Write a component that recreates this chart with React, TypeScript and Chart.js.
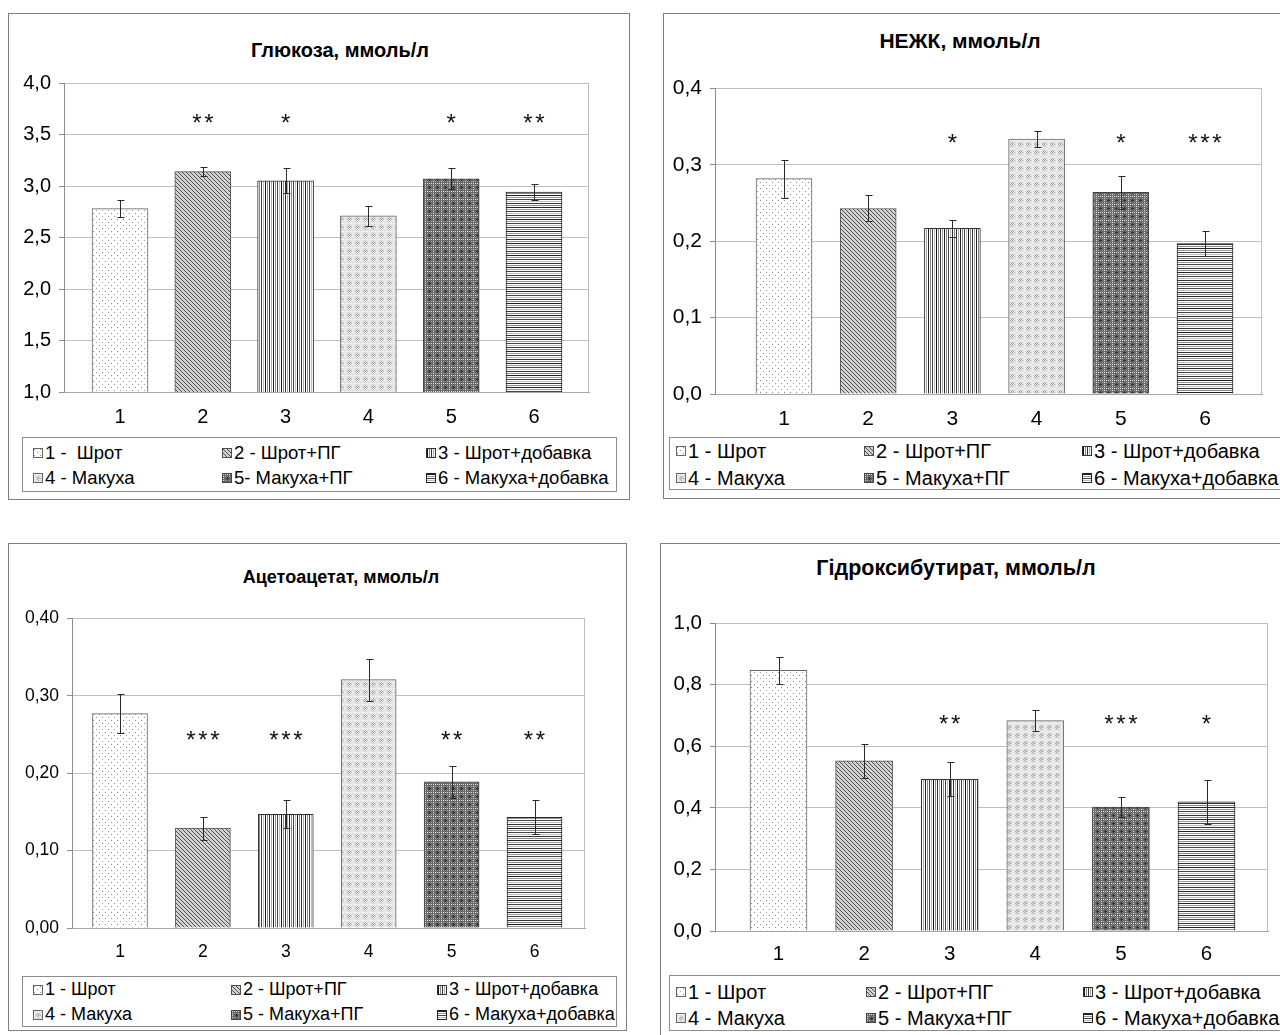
import React, { useEffect, useRef } from 'react';
import { Chart, registerables } from 'chart.js';

Chart.register(...registerables);

const FONT = "'Liberation Sans', Arial, sans-serif";

// ---- shared data ----
const groupNumbers = ['1', '2', '3', '4', '5', '6'];
const legendLabelsGlucose = ['1 -  Шрот', '2 - Шрот+ПГ', '3 - Шрот+добавка', '4 - Макуха', '5- Макуха+ПГ', '6 - Макуха+добавка'];
const legendLabels = ['1 - Шрот', '2 - Шрот+ПГ', '3 - Шрот+добавка', '4 - Макуха', '5 - Макуха+ПГ', '6 - Макуха+добавка'];

// Глюкоза
const glucoseValues = [2.78, 3.14, 3.05, 2.71, 3.07, 2.94];
const glucoseErrors = [0.08, 0.04, 0.12, 0.1, 0.1, 0.08];
const glucoseStars = ['', '**', '*', '', '*', '**'];
const glucoseTickValues = [1.0, 1.5, 2.0, 2.5, 3.0, 3.5, 4.0];
const glucoseTickLabels = ['1,0', '1,5', '2,0', '2,5', '3,0', '3,5', '4,0'];

// НЕЖК
const nefaValues = [0.282, 0.243, 0.217, 0.334, 0.264, 0.197];
const nefaErrors = [0.025, 0.017, 0.011, 0.01, 0.022, 0.016];
const nefaStars = ['', '', '*', '', '*', '***'];
const nefaTickValues = [0.0, 0.1, 0.2, 0.3, 0.4];
const nefaTickLabels = ['0,0', '0,1', '0,2', '0,3', '0,4'];

// Ацетоацетат
const acetoValues = [0.277, 0.129, 0.147, 0.321, 0.189, 0.143];
const acetoErrors = [0.025, 0.015, 0.018, 0.027, 0.021, 0.022];
const acetoStars = ['', '***', '***', '', '**', '**'];
const acetoTickValues = [0.0, 0.1, 0.2, 0.3, 0.4];
const acetoTickLabels = ['0,00', '0,10', '0,20', '0,30', '0,40'];

// Гідроксибутират
const hydroxyValues = [0.847, 0.553, 0.493, 0.684, 0.403, 0.42];
const hydroxyErrors = [0.045, 0.055, 0.055, 0.035, 0.034, 0.072];
const hydroxyStars = ['', '', '**', '', '***', '*'];
const hydroxyTickValues = [0.0, 0.2, 0.4, 0.6, 0.8, 1.0];
const hydroxyTickLabels = ['0,0', '0,2', '0,4', '0,6', '0,8', '1,0'];

// ---- patterns ----
function makeTile(w: number, h: number, bg: string, px: Array<[number, number, string]>) {
  const c = document.createElement('canvas');
  c.width = w;
  c.height = h;
  const g = c.getContext('2d')!;
  g.fillStyle = bg;
  g.fillRect(0, 0, w, h);
  px.forEach(([x, y, col]) => {
    g.fillStyle = col;
    g.fillRect(x, y, 1, 1);
  });
  return c;
}

function vLines(h: number, cols: Array<[number, string]>) {
  const px: Array<[number, number, string]> = [];
  cols.forEach(([x, col]) => {
    for (let y = 0; y < h; y++) px.push([x, y, col]);
  });
  return px;
}
function hLines(w: number, rows: Array<[number, string]>) {
  const px: Array<[number, number, string]> = [];
  rows.forEach(([y, col]) => {
    for (let x = 0; x < w; x++) px.push([x, y, col]);
  });
  return px;
}

let tileCache: HTMLCanvasElement[] | null = null;
function getTiles() {
  if (tileCache) return tileCache;
  const t1 = makeTile(6, 6, '#ffffff', [[0, 0, '#8a8a8a'], [3, 3, '#9a9a9a']]);
  const t2 = makeTile(4, 4, '#d2d2d2', [[0, 0, '#505050'], [1, 1, '#505050'], [2, 2, '#505050'], [3, 3, '#505050']]);
  const t3 = makeTile(16, 4, '#ffffff', vLines(4, [[0, '#111'], [2, '#888'], [4, '#333'], [6, '#aaa'], [8, '#222'], [10, '#888'], [12, '#444'], [14, '#bbb']]));
  const p4: Array<[number, number, string]> = [];
  for (let i = 0; i < 8; i += 2) { p4.push([i, 0, '#ffffff']); p4.push([0, i, '#ffffff']); }
  p4.push([3, 3, '#9a9a9a'], [4, 4, '#9a9a9a'], [3, 5, '#aaaaaa'], [5, 3, '#aaaaaa'], [2, 4, '#b0b0b0'], [4, 2, '#b0b0b0'], [6, 4, '#b0b0b0'], [4, 6, '#b0b0b0']);
  const t4 = makeTile(8, 8, '#e2e2e2', p4);
  const p5: Array<[number, number, string]> = [];
  for (let i = 0; i < 8; i += 2) { p5.push([i, 0, '#e0e0e0']); p5.push([0, i, '#e0e0e0']); }
  p5.push([4, 4, '#2e2e2e'], [3, 4, '#3a3a3a'], [5, 4, '#3a3a3a'], [4, 3, '#3a3a3a'], [4, 5, '#3a3a3a'], [2, 2, '#a0a0a0'], [6, 6, '#a0a0a0'], [2, 6, '#a0a0a0'], [6, 2, '#a0a0a0']);
  const t5 = makeTile(8, 8, '#6a6a6a', p5);
  const t6 = makeTile(4, 12, '#ffffff', hLines(4, [[0, '#222'], [2, '#999'], [4, '#444'], [6, '#bbb'], [8, '#333'], [10, '#888']]));
  tileCache = [t1, t2, t3, t4, t5, t6];
  return tileCache;
}

const barBorders = ['#666666', '#505050', '#333333', '#666666', '#444444', '#222222'];

type Box = { l: number; t: number; r: number; b: number };
type PanelCfg = {
  title: string;
  titleX: number;
  titleY: number;
  titleSize: number;
  tickSize: number;
  legendSize: number;
  xPad: number;
  frame: Box;
  plot: Box;
  firstCenter: number;
  spacing: number;
  barWidth: number;
  values: number[];
  errors: number[];
  stars: string[];
  starLevel: number;
  tickValues: number[];
  tickLabels: string[];
  legend: Box;
  legendCols: number[];
  legendRows: number[];
  legendLabels: string[];
};

const panels: PanelCfg[] = [
  {
    title: 'Глюкоза, ммоль/л', titleX: 340, titleY: 52, titleSize: 20, tickSize: 20, legendSize: 18.5, xPad: 13,
    frame: { l: 8, t: 13, r: 630, b: 500 },
    plot: { l: 64, t: 78, r: 589, b: 392 },
    firstCenter: 120, spacing: 82.8, barWidth: 56,
    values: glucoseValues, errors: glucoseErrors, stars: glucoseStars, starLevel: 3.62,
    tickValues: glucoseTickValues, tickLabels: glucoseTickLabels,
    legend: { l: 22, t: 437, r: 617, b: 492 }, legendCols: [33, 222, 426], legendRows: [453, 478],
    legendLabels: legendLabelsGlucose,
  },
  {
    title: 'НЕЖК, ммоль/л', titleX: 960, titleY: 42, titleSize: 21, tickSize: 21, legendSize: 20, xPad: 13,
    frame: { l: 663, t: 13, r: 1300, b: 499 },
    plot: { l: 715, t: 83, r: 1262, b: 394 },
    firstCenter: 784, spacing: 84.2, barWidth: 56,
    values: nefaValues, errors: nefaErrors, stars: nefaStars, starLevel: 0.329,
    tickValues: nefaTickValues, tickLabels: nefaTickLabels,
    legend: { l: 669, t: 437, r: 1300, b: 490 }, legendCols: [676, 864, 1082], legendRows: [451, 478],
    legendLabels: legendLabels,
  },
  {
    title: 'Ацетоацетат, ммоль/л', titleX: 341, titleY: 580, titleSize: 18, tickSize: 17.5, legendSize: 18, xPad: 14,
    frame: { l: 8, t: 543, r: 627, b: 1031 },
    plot: { l: 72, t: 615, r: 585, b: 928 },
    firstCenter: 120, spacing: 82.9, barWidth: 55,
    values: acetoValues, errors: acetoErrors, stars: acetoStars, starLevel: 0.243,
    tickValues: acetoTickValues, tickLabels: acetoTickLabels,
    legend: { l: 22, t: 976, r: 617, b: 1027 }, legendCols: [33, 231, 437], legendRows: [990, 1015],
    legendLabels: legendLabels,
  },
  {
    title: 'Гідроксибутират, ммоль/л', titleX: 956, titleY: 569, titleSize: 21.5, tickSize: 20.5, legendSize: 20, xPad: 11,
    frame: { l: 660, t: 543, r: 1300, b: 1040 },
    plot: { l: 715, t: 618, r: 1268, b: 931 },
    firstCenter: 778.5, spacing: 85.6, barWidth: 57,
    values: hydroxyValues, errors: hydroxyErrors, stars: hydroxyStars, starLevel: 0.675,
    tickValues: hydroxyTickValues, tickLabels: hydroxyTickLabels,
    legend: { l: 669, t: 975, r: 1300, b: 1031 }, legendCols: [676, 866, 1083], legendRows: [992, 1018],
    legendLabels: legendLabels,
  },
];

const PAD_TOP = 15;
const X_HEIGHT = 40;

function BarChartPanel({ cfg }: { cfg: PanelCfg }) {
  const ref = useRef<HTMLCanvasElement>(null);
  const cLeft = cfg.frame.l + 1;
  const cRight = Math.min(cfg.frame.r - 1, 1280);
  const cTop = cfg.plot.t - PAD_TOP;
  const cBottom = cfg.plot.b + X_HEIGHT;
  const cw = cRight - cLeft;
  const ch = cBottom - cTop;

  useEffect(() => {
    const canvas = ref.current!;
    const tiles = getTiles();
    const pctx = document.createElement('canvas').getContext('2d')!;
    const patterns = tiles.map((t) => pctx.createPattern(t, 'repeat')!);
    const n = cfg.values.length;
    const lastCenter = cfg.firstCenter + (n - 1) * cfg.spacing;
    const xmin = 1 - (cfg.firstCenter - cfg.plot.l) / cfg.spacing;
    const xmax = n + (cfg.plot.r - lastCenter) / cfg.spacing;
    const yWidth = cfg.plot.l - cLeft;
    const padRight = cRight - cfg.plot.r;

    const overlay = {
      id: 'overlay',
      beforeDatasetsDraw(chart: any) {
        const { ctx, chartArea } = chart;
        ctx.save();
        ctx.strokeStyle = '#bfbfbf';
        ctx.lineWidth = 1;
        ctx.beginPath();
        const rx = Math.round(chartArea.right) - 0.5;
        ctx.moveTo(rx, chartArea.top);
        ctx.lineTo(rx, chartArea.bottom);
        ctx.stroke();
        ctx.restore();
      },
      afterDatasetsDraw(chart: any) {
        const { ctx } = chart;
        const xs = chart.scales.x;
        const ys = chart.scales.y;
        ctx.save();
        ctx.strokeStyle = '#2a2a2a';
        ctx.lineWidth = 1;
        cfg.values.forEach((v, i) => {
          const e = cfg.errors[i];
          const px = Math.round(xs.getPixelForValue(i + 1)) + 0.5;
          const t = Math.round(ys.getPixelForValue(v + e)) + 0.5;
          const b = Math.round(ys.getPixelForValue(v - e)) + 0.5;
          ctx.beginPath();
          ctx.moveTo(px, t);
          ctx.lineTo(px, b);
          ctx.moveTo(px - 3, t);
          ctx.lineTo(px + 4, t);
          ctx.moveTo(px - 3, b);
          ctx.lineTo(px + 4, b);
          ctx.stroke();
        });
        ctx.fillStyle = '#111';
        ctx.font = `24px ${FONT}`;
        ctx.textAlign = 'center';
        ctx.textBaseline = 'alphabetic';
        const m = ctx.measureText('*');
        const off = (m.actualBoundingBoxAscent - m.actualBoundingBoxDescent) / 2 - 4;
        cfg.stars.forEach((s, i) => {
          if (!s) return;
          const cx = xs.getPixelForValue(i + 1);
          const cy = ys.getPixelForValue(cfg.starLevel);
          const step = 12;
          const start = cx - ((s.length - 1) * step) / 2;
          for (let k = 0; k < s.length; k++) {
            ctx.fillText(s[k], start + k * step, cy + off);
          }
        });
        ctx.restore();
      },
    };

    const chart = new Chart(canvas, {
      type: 'bar',
      data: {
        datasets: [
          {
            data: cfg.values.map((v, i) => ({ x: i + 1, y: v })),
            backgroundColor: patterns as any,
            borderColor: barBorders,
            borderWidth: 1,
            barThickness: cfg.barWidth,
          } as any,
        ],
      },
      options: {
        responsive: false,
        animation: false,
        devicePixelRatio: 1,
        layout: { padding: { top: PAD_TOP, right: padRight, bottom: 0, left: 0 } },
        plugins: {
          legend: { display: false },
          tooltip: { enabled: false },
          title: { display: false },
        },
        scales: {
          x: {
            type: 'linear',
            offset: false,
            min: xmin,
            max: xmax,
            afterBuildTicks: (s: any) => {
              s.ticks = groupNumbers.map((_, i) => ({ value: i + 1 }));
            },
            afterFit: (s: any) => {
              s.height = X_HEIGHT;
            },
            grid: { display: false, drawTicks: false, offset: false },
            border: { display: true, color: '#a8a8a8' },
            ticks: {
              callback: (v: any) => groupNumbers[Math.round(Number(v)) - 1] ?? '',
              font: { family: FONT, size: cfg.tickSize },
              color: '#000',
              padding: cfg.xPad,
              maxRotation: 0,
              autoSkip: false,
            },
          },
          y: {
            type: 'linear',
            min: cfg.tickValues[0],
            max: cfg.tickValues[cfg.tickValues.length - 1],
            afterBuildTicks: (s: any) => {
              s.ticks = cfg.tickValues.map((v) => ({ value: v }));
            },
            afterFit: (s: any) => {
              s.width = yWidth;
            },
            grid: { color: '#c0c0c0', lineWidth: 1, drawTicks: true, tickLength: 5, tickColor: '#8c8c8c' },
            border: { display: true, color: '#8c8c8c' },
            ticks: {
              callback: (_v: any, idx: number) => cfg.tickLabels[idx],
              font: { family: FONT, size: cfg.tickSize },
              color: '#000',
              padding: 8,
            },
          },
        },
      },
      plugins: [overlay],
    } as any);
    return () => chart.destroy();
  }, []);

  return (
    <canvas
      ref={ref}
      width={cw}
      height={ch}
      style={{ position: 'absolute', left: cLeft, top: cTop, width: cw, height: ch }}
    />
  );
}

function Swatch({ idx }: { idx: number }) {
  const ref = useRef<HTMLSpanElement>(null);
  useEffect(() => {
    const tiles = getTiles();
    if (ref.current) ref.current.style.backgroundImage = `url(${tiles[idx].toDataURL()})`;
  }, [idx]);
  return (
    <span
      ref={ref}
      style={{
        position: 'absolute',
        left: 0,
        top: -5,
        width: 8,
        height: 8,
        border: `1px solid ${barBorders[idx]}`,
        boxSizing: 'content-box',
      }}
    />
  );
}

function Panel({ cfg }: { cfg: PanelCfg }) {
  const f = cfg.frame;
  const lg = cfg.legend;
  return (
    <>
      <div
        style={{
          position: 'absolute',
          left: f.l,
          top: f.t,
          width: f.r - f.l - 2,
          height: f.b - f.t - 2,
          border: '1px solid #808080',
          background: '#fff',
        }}
      />
      <div
        style={{
          position: 'absolute',
          left: cfg.titleX - 300,
          width: 600,
          top: cfg.titleY - 13,
          height: 26,
          lineHeight: '26px',
          textAlign: 'center',
          font: `bold ${cfg.titleSize}px ${FONT}`,
          color: '#000',
        }}
      >
        {cfg.title}
      </div>
      <BarChartPanel cfg={cfg} />
      <div
        style={{
          position: 'absolute',
          left: lg.l,
          top: lg.t,
          width: lg.r - lg.l - 2,
          height: lg.b - lg.t - 2,
          border: '1px solid #8c8c8c',
          background: '#fff',
        }}
      />
      {cfg.legendLabels.map((label, i) => {
        const col = i % 3;
        const row = Math.floor(i / 3);
        return (
          <div
            key={i}
            style={{ position: 'absolute', left: cfg.legendCols[col], top: cfg.legendRows[row], height: 0 }}
          >
            <Swatch idx={i} />
            <span
              style={{
                position: 'absolute',
                left: 12,
                top: -11,
                lineHeight: '22px',
                whiteSpace: 'pre',
                font: `${cfg.legendSize}px ${FONT}`,
                color: '#000',
              }}
            >
              {label}
            </span>
          </div>
        );
      })}
    </>
  );
}

export default function App() {
  return (
    <div
      style={{
        position: 'absolute',
        left: 0,
        top: 0,
        width: 1280,
        height: 1035,
        overflow: 'hidden',
        background: '#fff',
      }}
    >
      {panels.map((p, i) => (
        <Panel key={i} cfg={p} />
      ))}
    </div>
  );
}
